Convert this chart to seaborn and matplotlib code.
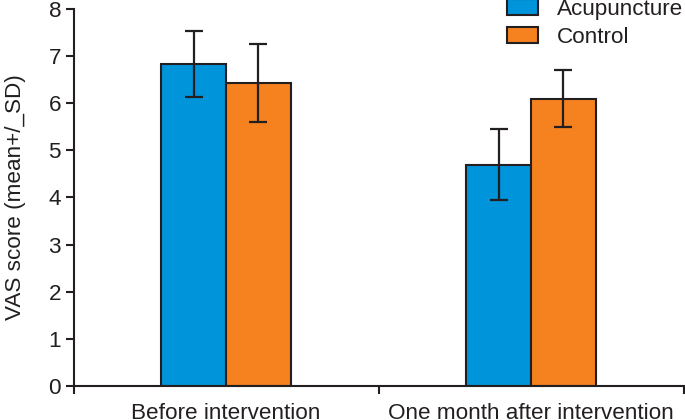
import matplotlib
matplotlib.use("Agg")
import matplotlib.pyplot as plt
import seaborn as sns
import pandas as pd
import numpy as np
from matplotlib.patches import Patch

categories = ["Before intervention", "One month after intervention"]
groups = ["Acupuncture", "Control"]
acu_mean = [6.83, 4.70]
acu_sd = [0.70, 0.75]
ctl_mean = [6.43, 6.10]
ctl_sd = [0.82, 0.60]

colors = {"Acupuncture": "#0095da", "Control": "#f5821f"}
edge = "#231f20"
FS = 16.2

df = pd.DataFrame({
    "time": categories * 2,
    "group": [groups[0]] * 2 + [groups[1]] * 2,
    "mean": acu_mean + ctl_mean,
    "sd": acu_sd + ctl_sd,
})

sns.set_style("white")
plt.rcParams["font.family"] = ["Liberation Sans", "DejaVu Sans"]
plt.rcParams["text.color"] = edge

fig = plt.figure(figsize=(6.85, 4.2), dpi=100)
ax = fig.add_axes([73.5 / 685, 1 - 386 / 420, (683.5 - 73.5) / 685, (386 - 9) / 420])

sns.barplot(data=df, x="time", y="mean", hue="group", order=categories,
            hue_order=groups, palette=colors, saturation=1, width=0.425,
            errorbar=None, edgecolor=edge, linewidth=1.5, ax=ax, legend=False)

sds = {groups[0]: acu_sd, groups[1]: ctl_sd}
means = {groups[0]: acu_mean, groups[1]: ctl_mean}
for g, cont in zip(groups, ax.containers):
    xs = [p.get_x() + p.get_width() / 2 for p in cont.patches]
    ax.errorbar(xs, means[g], yerr=sds[g], fmt="none", ecolor=edge,
                elinewidth=1.6, capsize=6.5, capthick=1.6, zorder=5)

ax.set_xlim(-0.5, 1.5)
ax.set_ylim(0, 8)
ax.set_yticks(range(0, 9))
ax.set_xlabel("")
ax.set_ylabel("VAS score (mean+/_SD)", fontsize=FS, color=edge, labelpad=16)

ax.set_xticks([0, 1])
ax.set_xticklabels(categories, fontsize=FS, color=edge)
ax.set_xticks([-0.5, 0.5, 1.5], minor=True)
ax.tick_params(axis="x", which="major", length=0, pad=12, bottom=True)
ax.tick_params(axis="x", which="minor", length=6, width=1.5, color=edge,
               direction="out", bottom=True)
ax.tick_params(axis="y", length=6, width=1.5, color=edge, labelsize=FS,
               labelcolor=edge, left=True, pad=3)

for s in ["top", "right"]:
    ax.spines[s].set_visible(False)
for s in ["left", "bottom"]:
    ax.spines[s].set_color(edge)
    ax.spines[s].set_linewidth(1.5)

handles = [Patch(facecolor=colors[g], edgecolor=edge, linewidth=1.5) for g in groups]
fig.legend(handles, groups, loc="upper left", bbox_to_anchor=(507 / 685, 1.003),
           frameon=False, fontsize=FS, handlelength=1.37, handleheight=0.75,
           handletextpad=0.85, labelspacing=0.3, borderaxespad=0, borderpad=0)

fig.savefig("out.png", dpi=100)
